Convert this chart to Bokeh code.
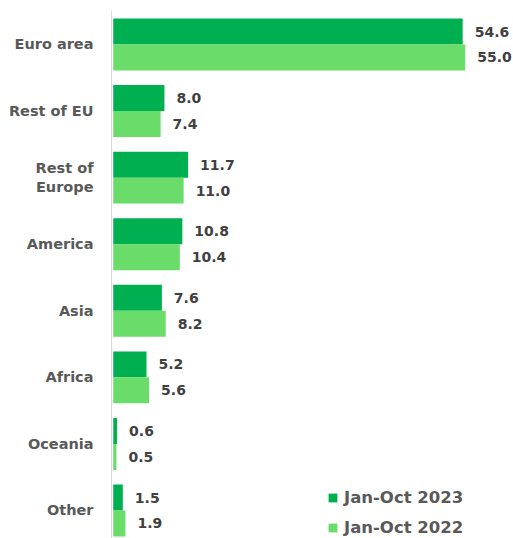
from bokeh.plotting import figure
from bokeh.models import ColumnDataSource, FixedTicker, Range1d
from bokeh.embed import file_html
from bokeh.resources import INLINE
from bokeh.core.properties import value

categories = ["Euro area", "Rest of EU", "Rest of\nEurope", "America", "Asia", "Africa", "Oceania", "Other"]
jan_oct_2023 = [54.6, 8.0, 11.7, 10.8, 7.6, 5.2, 0.6, 1.5]
jan_oct_2022 = [55.0, 7.4, 11.0, 10.4, 8.2, 5.6, 0.5, 1.9]
series_names = ["Jan-Oct 2023", "Jan-Oct 2022"]
colors = ["#00B050", "#6ADC6A"]

FONT = "DejaVu Sans"
idx = list(range(len(categories)))
bar_h = 0.39
off = bar_h / 2

src23 = ColumnDataSource(dict(y=[i - off for i in idx], v=jan_oct_2023,
                              lab=[f"{v:.1f}" for v in jan_oct_2023]))
src22 = ColumnDataSource(dict(y=[i + off for i in idx], v=jan_oct_2022,
                              lab=[f"{v:.1f}" for v in jan_oct_2022]))

p = figure(width=513, height=538, output_backend="svg", toolbar_location=None,
           x_range=Range1d(-0.27, 62.54), y_range=Range1d(7.4208, -0.5107),
           x_axis_location=None, min_border_left=111, min_border_right=0,
           min_border_top=10, min_border_bottom=0)
p.outline_line_color = None
p.grid.visible = False
p.background_fill_color = "white"

p.hbar(y="y", right="v", left=0, height=bar_h, source=src23, color=colors[0],
       line_color=None, legend_label=series_names[0])
p.hbar(y="y", right="v", left=0, height=bar_h, source=src22, color=colors[1],
       line_color=None, legend_label=series_names[1])

for s in (src23, src22):
    p.text(x="v", y="y", text="lab", source=s, x_offset=12, text_baseline="middle",
           text_align="left", text_font=value(FONT), text_font_style="bold",
           text_font_size="14px", text_color="#404040")

ax = p.yaxis[0]
ax.ticker = FixedTicker(ticks=idx)
ax.major_label_overrides = {i: c for i, c in zip(idx, categories)}
ax.major_tick_line_color = None
ax.minor_tick_line_color = None
ax.major_tick_out = 0
ax.major_tick_in = 0
ax.axis_line_color = "#D9D9D9"
ax.axis_line_width = 1
ax.major_label_standoff = 18
ax.major_label_text_font = FONT
ax.major_label_text_font_style = "bold"
ax.major_label_text_font_size = "14.5px"
ax.major_label_text_color = "#595959"

lg = p.legend[0]
lg.location = (216, 1)
lg.border_line_color = None
lg.background_fill_alpha = 0
lg.padding = 0
lg.margin = 0
lg.spacing = 10
lg.glyph_width = 11
lg.glyph_height = 11
lg.label_standoff = 6
lg.label_text_font = FONT
lg.label_text_font_style = "bold"
lg.label_text_font_size = "16.5px"
lg.label_text_color = "#595959"
lg.label_height = 20

open("out.html", "w").write(file_html(p, INLINE))
